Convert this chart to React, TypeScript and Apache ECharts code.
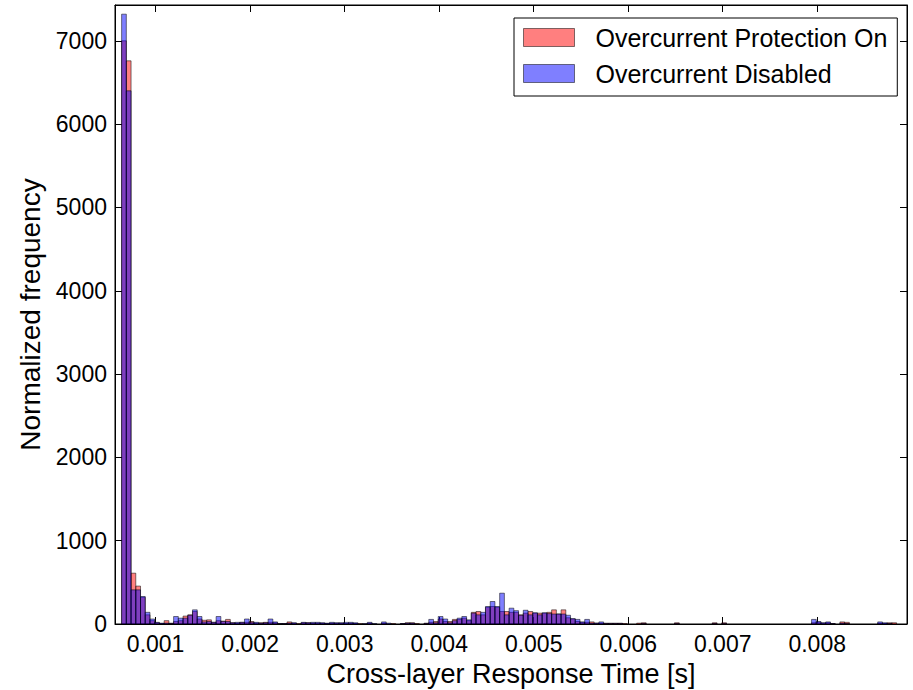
import React, { useEffect, useRef } from "react";
import * as echarts from "echarts";

// Histogram bins (seconds)
const BIN_START = 0.00064;
const BIN_WIDTH = 0.00005;

const protectionOn = [
  7000, 6760, 610, 455, 320, 110, 40, 15, 5, 40,
  10, 30, 40, 95, 110, 150, 60, 45, 50, 20,
  40, 35, 55, 15, 10, 20, 20, 30, 10, 15,
  20, 20, 15, 5, 5, 25, 10, 5, 15, 15,
  10, 10, 10, 5, 10, 10, 10, 5, 10, 5,
  5, 0, 10, 0, 0, 10, 0, 5, 0, 5,
  15, 15, 5, 0, 10, 20, 30, 60, 30, 30,
  55, 55, 70, 40, 140, 150, 110, 200, 210, 200,
  150, 150, 140, 140, 110, 130, 150, 130, 130, 130,
  140, 170, 120, 170, 75, 60, 30, 20, 20, 25,
  10, 10, 10, 10, 10, 10, 5, 0, 0, 10,
  15, 0, 0, 0, 0, 0, 0, 15, 0, 0,
  0, 0, 0, 0, 0, 15, 0, 15, 0, 0,
  0, 0, 0, 0, 0, 0, 0, 0, 0, 0,
  0, 0, 0, 0, 0, 0, 15, 20, 10, 15,
  5, 0, 25, 20, 0, 0, 0, 0, 0, 0,
  10, 5, 15, 15, 0, 0,
];

const disabled = [
  7320, 6400, 410, 410, 330, 140, 60, 20, 10, 10,
  5, 90, 70, 70, 105, 170, 90, 25, 30, 20,
  90, 30, 30, 15, 20, 20, 60, 20, 20, 10,
  15, 60, 25, 5, 5, 10, 15, 0, 20, 15,
  20, 20, 15, 10, 20, 15, 15, 20, 20, 15,
  0, 5, 20, 5, 0, 25, 10, 0, 0, 5,
  10, 10, 0, 0, 5, 55, 15, 90, 60, 15,
  40, 70, 90, 50, 130, 110, 140, 210, 270, 210,
  370, 110, 190, 160, 105, 165, 110, 135, 110, 135,
  125, 120, 120, 120, 105, 65, 55, 25, 55, 10,
  10, 25, 5, 5, 5, 5, 0, 0, 0, 0,
  5, 0, 0, 0, 0, 0, 0, 5, 0, 0,
  0, 0, 0, 0, 0, 5, 0, 5, 0, 0,
  0, 0, 0, 0, 0, 0, 0, 0, 0, 0,
  0, 0, 0, 0, 0, 0, 55, 30, 15, 25,
  5, 0, 10, 5, 0, 0, 0, 0, 0, 0,
  25, 15, 5, 0, 0, 0,
];

const seriesNames = ["Overcurrent Protection On", "Overcurrent Disabled"];
const xTicks = [0.001, 0.002, 0.003, 0.004, 0.005, 0.006, 0.007, 0.008];
const yTicks = [0, 1000, 2000, 3000, 4000, 5000, 6000, 7000];
const X_MIN = 0.00057;
const X_MAX = 0.00895;
const Y_MAX = 7430;

const FONT = "'Liberation Sans', Arial, Helvetica, sans-serif";
const RED = "rgba(255,0,0,0.5)";
const BLUE = "rgba(0,0,255,0.5)";
const EDGE = "rgba(0,0,0,0.5)";

function toBins(counts: number[]) {
  return counts.map((c, i) => [
    BIN_START + i * BIN_WIDTH,
    BIN_START + (i + 1) * BIN_WIDTH,
    c,
  ]);
}

function makeRender(fill: string) {
  return (params: any, api: any) => {
    const x0 = api.value(0);
    const x1 = api.value(1);
    const y = api.value(2);
    if (!y) return null;
    const p0 = api.coord([x0, y]);
    const p1 = api.coord([x1, 0]);
    return {
      type: "rect",
      shape: { x: p0[0], y: p0[1], width: p1[0] - p0[0], height: p1[1] - p0[1] },
      style: { fill, stroke: EDGE, lineWidth: 1 },
    };
  };
}

export default function App() {
  const ref = useRef<HTMLDivElement>(null);
  useEffect(() => {
    if (!ref.current) return;
    const chart = echarts.init(ref.current, undefined, { renderer: "svg" });
    const axisCommonX = {
      type: "value",
      min: X_MIN,
      max: X_MAX,
      splitLine: { show: false },
      axisLine: { show: true, onZero: false, lineStyle: { color: "#000", width: 1 } },
      axisTick: {
        show: true,
        inside: true,
        length: 7,
        customValues: xTicks,
        lineStyle: { color: "#000", width: 1 },
      },
    };
    const axisCommonY = {
      type: "value",
      min: 0,
      max: Y_MAX,
      splitLine: { show: false },
      axisLine: { show: true, onZero: false, lineStyle: { color: "#000", width: 1 } },
      axisTick: {
        show: true,
        inside: true,
        length: 7,
        customValues: yTicks,
        lineStyle: { color: "#000", width: 1 },
      },
    };
    chart.setOption({
      animation: false,
      backgroundColor: "#fff",
      grid: {
        left: 115,
        right: 6,
        top: 5,
        bottom: 66,
        containLabel: false,
        outerBoundsMode: "none",
        show: true,
        borderColor: "#000",
        borderWidth: 1,
      },
      legend: {
        orient: "vertical",
        left: 514,
        top: 18,
        padding: [7, 10, 10, 9],
        itemGap: 11,
        itemWidth: 51,
        itemHeight: 18,
        borderColor: "#000",
        borderWidth: 1,
        borderRadius: 0,
        backgroundColor: "#fff",
        selectedMode: false,
        textStyle: {
          fontFamily: FONT,
          fontSize: 25,
          color: "#000",
          padding: [0, 0, 0, 16],
        },
        data: [
          { name: seriesNames[0], icon: "rect", itemStyle: { color: RED, borderColor: EDGE, borderWidth: 1 } },
          { name: seriesNames[1], icon: "rect", itemStyle: { color: BLUE, borderColor: EDGE, borderWidth: 1 } },
        ],
      },
      xAxis: [
        {
          ...axisCommonX,
          position: "bottom",
          name: "Cross-layer Response Time [s]",
          nameLocation: "middle",
          nameGap: 35,
          nameTextStyle: { fontFamily: FONT, fontSize: 27, color: "#000", lineHeight: 28 },
          axisLabel: {
            show: true,
            customValues: xTicks,
            formatter: (v: number) => v.toFixed(3),
            fontFamily: FONT,
            fontSize: 23,
            color: "#000",
            margin: 8,
          },
        },
        {
          ...axisCommonX,
          position: "top",
          axisLabel: { show: false },
        },
      ],
      yAxis: [
        {
          ...axisCommonY,
          position: "left",
          name: "Normalized frequency",
          nameLocation: "middle",
          nameGap: 70,
          nameTextStyle: { fontFamily: FONT, fontSize: 28, color: "#000" },
          axisLabel: {
            show: true,
            customValues: yTicks,
            formatter: (v: number) => String(v),
            fontFamily: FONT,
            fontSize: 23,
            color: "#000",
            margin: 8,
          },
        },
        {
          ...axisCommonY,
          position: "right",
          axisLabel: { show: false },
        },
      ],
      series: [
        {
          name: seriesNames[0],
          type: "custom",
          xAxisIndex: 0,
          yAxisIndex: 0,
          clip: true,
          itemStyle: { color: RED, borderColor: EDGE, borderWidth: 1 },
          encode: { x: [0, 1], y: 2 },
          renderItem: makeRender(RED),
          data: toBins(protectionOn),
        },
        {
          name: seriesNames[1],
          type: "custom",
          xAxisIndex: 0,
          yAxisIndex: 0,
          clip: true,
          itemStyle: { color: BLUE, borderColor: EDGE, borderWidth: 1 },
          encode: { x: [0, 1], y: 2 },
          renderItem: makeRender(BLUE),
          data: toBins(disabled),
        },
      ],
    });
    return () => chart.dispose();
  }, []);
  return (
    <div
      ref={ref}
      style={{ position: "fixed", left: 0, top: 0, width: 913, height: 690, background: "#fff" }}
    />
  );
}
